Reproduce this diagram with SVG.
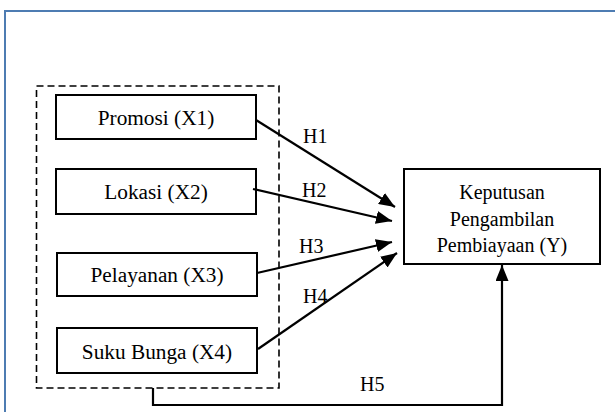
<svg xmlns="http://www.w3.org/2000/svg" width="615" height="412" viewBox="0 0 615 412">
<style>
.box{fill:#fff;stroke:#000;stroke-width:2}
.t{font-family:'Liberation Serif','Times New Roman',Times,serif;font-size:20px;fill:#000}
.b{font-size:21.3px}
.c{text-anchor:middle}
.ln{fill:none;stroke:#000;stroke-width:2.2}
</style>
<defs>
<marker id="ah" viewBox="0 0 16 13" refX="16" refY="6.5" markerWidth="16" markerHeight="13" markerUnits="userSpaceOnUse" orient="auto">
<path d="M0,0 L16,6.5 L0,13 z" fill="#000"/>
</marker>
</defs>
<rect x="0" y="0" width="615" height="412" fill="#fff"/>
<rect x="5" y="11" width="620" height="420" fill="none" stroke="#4e7cb2" stroke-width="2"/>
<g id="group">
<rect x="36.5" y="86" width="242.5" height="302" fill="none" stroke="#000" stroke-width="1.6" stroke-dasharray="7 4"/>
</g>
<g id="x1"><rect class="box" x="56" y="95" width="200" height="44"/><text class="t b c" x="156" y="125">Promosi (X1)</text></g>
<g id="x2"><rect class="box" x="56" y="169" width="200" height="45"/><text class="t b c" x="156" y="199">Lokasi (X2)</text></g>
<g id="x3"><rect class="box" x="57" y="253" width="200" height="43"/><text class="t b c" x="157" y="282">Pelayanan (X3)</text></g>
<g id="x4"><rect class="box" x="57" y="328" width="200" height="45"/><text class="t b c" x="157" y="359">Suku Bunga (X4)</text></g>
<g id="y"><rect class="box" x="404" y="169" width="196" height="95"/>
<text class="t c" x="502" y="199">Keputusan</text>
<text class="t c" x="502" y="226">Pengambilan</text>
<text class="t c" x="502" y="252">Pembiayaan (Y)</text></g>
<g id="connectors">
<line class="ln" x1="256" y1="120" x2="395" y2="207" marker-end="url(#ah)"/>
<line class="ln" x1="253" y1="189" x2="392" y2="221" marker-end="url(#ah)"/>
<line class="ln" x1="257" y1="273" x2="392" y2="242" marker-end="url(#ah)"/>
<line class="ln" x1="258" y1="349" x2="397" y2="253" marker-end="url(#ah)"/>
<path class="ln" d="M153,388 V405 H502 V265" marker-end="url(#ah)"/>
<text class="t" x="303" y="143">H1</text>
<text class="t" x="302" y="197">H2</text>
<text class="t" x="299" y="253">H3</text>
<text class="t" x="303" y="303">H4</text>
<text class="t" x="360" y="391">H5</text>
</g>
</svg>
